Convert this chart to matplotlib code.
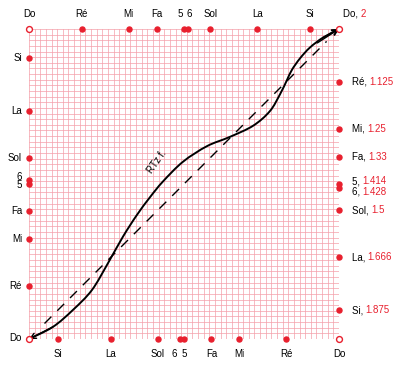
import numpy as np
import matplotlib.pyplot as plt
from matplotlib.path import Path
from matplotlib.patches import PathPatch

plt.rcParams['font.family'] = ['Liberation Sans', 'DejaVu Sans']

# notes of the scale and their frequency ratios
notes = ['Ré', 'Mi', 'Fa', '5', '6', 'Sol', 'La', 'Si']
ratio_labels = ['1.125', '1.25', '1.33', '1.414', '1.428', '1.5', '1.666', '1.875']
ratios = [float(r) for r in ratio_labels]

# solid curve (x, y in octave fractions)
curve_x = [0.0, 0.077, 0.142, 0.203, 0.255, 0.303, 0.348, 0.39, 0.432, 0.497,
           0.574, 0.648, 0.723, 0.777, 0.81, 0.832, 0.848, 0.874, 0.906, 0.948, 1.0]
curve_y = [0.0, 0.039, 0.094, 0.158, 0.245, 0.33, 0.40, 0.457, 0.508, 0.572,
           0.622, 0.652, 0.688, 0.735, 0.79, 0.835, 0.868, 0.905, 0.94, 0.972, 1.0]

red = '#e8202e'
grid_red = '#f4a0aa'

fig = plt.figure(figsize=(4.01, 3.76), dpi=100)
ax = fig.add_axes([29/401, 37/376, 310/401, 310/376])
ax.set_xlim(0, 1)
ax.set_ylim(0, 1)
ticks = np.linspace(0, 1, 56)
ax.set_xticks(ticks)
ax.set_yticks(ticks)
ax.tick_params(length=0, labelbottom=False, labelleft=False)
ax.grid(color=grid_red, lw=0.5)
for s in ax.spines.values():
    s.set_visible(False)

pos = np.log2(ratios)
fs = 7

# dots on four sides
ax.scatter(pos, np.ones_like(pos), s=13, color=red, zorder=5, clip_on=False)
ax.scatter(np.zeros_like(pos), pos, s=13, color=red, zorder=5, clip_on=False)
ax.scatter(1 - pos, np.zeros_like(pos), s=13, color=red, zorder=5, clip_on=False)
ax.scatter(np.ones_like(pos), 1 - pos, s=13, color=red, zorder=5, clip_on=False)
ax.scatter([0, 1, 0, 1], [0, 0, 1, 1], s=18, facecolor='white', edgecolor=red,
           lw=1, zorder=6, clip_on=False)

# small shifts (points) so 5 and 6 don't collide
top_dx = {'5': -2.5, '6': 1}
left_dy = {'6': 2, '5': -1}
bot_dx = {'6': -4, '5': 0}
right_dy = {'5': 2, '6': -2.5}

# top
ax.annotate('Do', (0, 1), xytext=(0, 11), textcoords='offset points',
            ha='center', va='center', fontsize=fs)
for n, p in zip(notes, pos):
    ax.annotate(n, (p, 1), xytext=(top_dx.get(n, 0), 11), textcoords='offset points',
                ha='center', va='center', fontsize=fs)
t = ax.annotate('Do, ', (1, 1), xytext=(3, 11), textcoords='offset points',
                ha='left', va='center', fontsize=fs)
ax.annotate('2', xy=(1, 0), xycoords=t, ha='left', va='bottom', fontsize=fs, color=red)

# left
ax.annotate('Do', (0, 0), xytext=(-5, 1), textcoords='offset points',
            ha='right', va='center', fontsize=fs)
for n, p in zip(notes, pos):
    ax.annotate(n, (0, p), xytext=(-5, left_dy.get(n, 0)), textcoords='offset points',
                ha='right', va='center', fontsize=fs)

# bottom
ax.annotate('Do', (1, 0), xytext=(0, -11), textcoords='offset points',
            ha='center', va='center', fontsize=fs)
for n, p in zip(notes, pos):
    ax.annotate(n, (1 - p, 0), xytext=(bot_dx.get(n, 0), -11), textcoords='offset points',
                ha='center', va='center', fontsize=fs)

# right
for n, p, r in zip(notes, pos, ratio_labels):
    t = ax.annotate(n + ', ', (1, 1 - p), xytext=(9, right_dy.get(n, 0)),
                    textcoords='offset points', ha='left', va='center', fontsize=fs)
    ax.annotate(r, xy=(1, 0), xycoords=t, ha='left', va='bottom', fontsize=fs, color=red)

# dashed diagonal
ax.plot([0.05, 0.96], [0.05, 0.96], color='black', lw=1, dashes=(7, 6), zorder=4)

# solid curve drawn as a smooth bezier path through the read points
pts = np.column_stack([curve_x, curve_y])
verts = [pts[0]]
codes = [Path.MOVETO]
for i in range(len(pts) - 1):
    p0 = pts[max(i - 1, 0)]
    p1 = pts[i]
    p2 = pts[i + 1]
    p3 = pts[min(i + 2, len(pts) - 1)]
    verts += [p1 + (p2 - p0) / 6, p2 - (p3 - p1) / 6, p2]
    codes += [Path.CURVE4] * 3
ax.add_patch(PathPatch(Path(verts, codes), fill=False, lw=1.4, ec='black', zorder=4))

arrow = dict(arrowstyle='->', color='black', lw=1, shrinkA=0, shrinkB=0)
ax.annotate('', xy=(1, 1), xytext=(0.93, 0.955), arrowprops=arrow, zorder=5)
ax.annotate('', xy=(1, 1), xytext=(curve_x[-2], curve_y[-2]), arrowprops=arrow, zorder=5)
ax.annotate('', xy=(0, 0), xytext=(curve_x[1], curve_y[1]), arrowprops=arrow, zorder=5)

ax.text(0.413, 0.572, 'RTz f.', rotation=55, fontsize=7, ha='center', va='center')

fig.savefig('out.png', dpi=100)
